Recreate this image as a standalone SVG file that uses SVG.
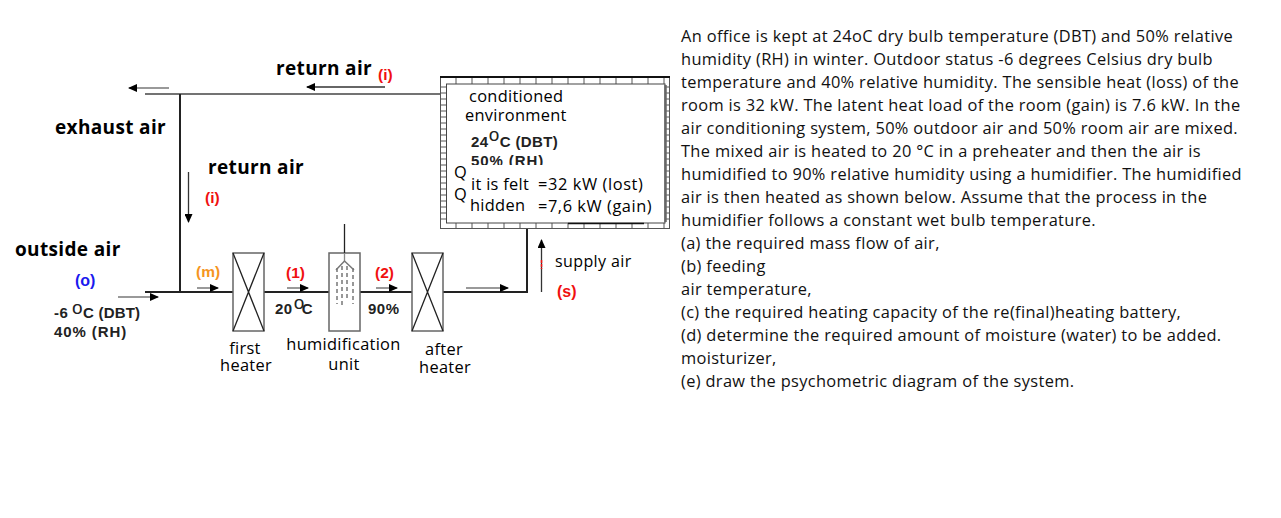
<svg xmlns="http://www.w3.org/2000/svg" width="1281" height="518" viewBox="0 0 1281 518">
<defs>
<marker id="ah" markerUnits="userSpaceOnUse" markerWidth="9" markerHeight="8" refX="8" refY="4" orient="auto"><path d="M0,0L9,4L0,8Z" fill="#000"/></marker>
<pattern id="brick" width="16" height="8" patternUnits="userSpaceOnUse"><path d="M8,0V8" stroke="#555" stroke-width="1"/></pattern>
<pattern id="brickv" width="8" height="6" patternUnits="userSpaceOnUse"><path d="M0,3H8" stroke="#555" stroke-width="1"/></pattern>
</defs>
<style>
text{font-family:"Open Sans","Noto Sans",sans-serif;fill:#000}
.b{font-weight:700;font-size:19px;letter-spacing:.35px}
.n{font-size:16.4px;letter-spacing:.3px}
.p{font-size:16.4px;letter-spacing:.34px;fill:#111}
.a{font-family:"Liberation Sans",Arial,sans-serif;font-weight:700;font-size:15px;letter-spacing:.5px;fill:#222}
.r{font-family:"Liberation Sans",Arial,sans-serif;font-weight:700;font-size:15.500px;fill:#f01010}
.line{fill:none;stroke:#222;stroke-width:2}
.thin{fill:none;stroke:#444;stroke-width:1.400}
.arr{fill:none;stroke:#333;stroke-width:1.300;marker-end:url(#ah)}
.gray{fill:none;stroke:#777;stroke-width:1.500;marker-end:url(#ah)}
.box{fill:#fff;stroke:#666;stroke-width:1.500}
.x{stroke:#222;stroke-width:1.300;fill:none}
</style>
<rect width="1281" height="518" fill="#fff"/>
<g id="connectors">
<path class="thin" d="M145,94H441"/>
<path class="line" d="M180,94V293"/>
<path class="line" d="M145,292H233"/>
<path class="line" d="M264,292H329"/>
<path class="line" d="M360,292H412"/>
<path class="line" d="M443,292H527V229"/>
<path class="gray" d="M169,88H129"/>
<path class="arr" d="M385,87H307"/>
<path class="arr" d="M188.500,172V222"/>
<path class="gray" d="M118,297H158"/>
<path class="gray" d="M197,288H218"/>
<path class="gray" d="M287,288H308"/>
<path class="gray" d="M376,288H397"/>
<path class="gray" d="M466,288H508"/>
<path class="arr" d="M541.500,292V240"/>
<path d="M541.500,260V269" stroke="#f01010" stroke-width="1.500" stroke-dasharray="3 1"/>
</g>
<g id="room">
<rect x="440.500" y="77.500" width="229" height="151" fill="#fff" stroke="#555" stroke-width="1"/>
<path d="M440,77H670" stroke="#111" stroke-width="2"/>
<rect x="441" y="78" width="228" height="6" fill="url(#brick)"/>
<rect x="441" y="223" width="228" height="5" fill="url(#brick)"/>
<rect x="441" y="84" width="5" height="139" fill="url(#brickv)"/>
<rect x="666" y="84" width="3" height="139" fill="url(#brickv)"/>
<rect x="446.500" y="84" width="218.500" height="139" fill="#fff" stroke="#444" stroke-width="1"/>
<path d="M665.500,85V222" stroke="#666" stroke-width="2.500"/>
<path d="M568,223.500H644" stroke="#111" stroke-width="1.500"/>
<text class="n" x="469" y="102">conditioned</text>
<text class="n" x="465" y="121">environment</text>
<text class="a" x="471" y="147">24<tspan font-size="19" font-weight="400" dy="-6">o</tspan><tspan dy="6" letter-spacing=".35">C (DBT)</tspan></text>
<text class="a" x="471" y="166" style="letter-spacing:.9px">50% (RH)</text>
<rect x="452" y="165" width="202" height="50" fill="#fff"/>
<text class="n" x="454" y="178">Q</text>
<text class="n" x="471" y="190">it is felt</text>
<text class="n" x="538" y="190" style="letter-spacing:.6px">=32 kW (lost)</text>
<text class="n" x="454" y="200">Q</text>
<text class="n" x="470" y="211">hidden</text>
<text class="n" x="538" y="212" style="letter-spacing:.55px">=7,6 kW (gain)</text>
</g>
<g id="first-heater">
<rect class="box" x="233" y="253" width="31" height="78"/>
<path class="x" d="M233,253L264,331M264,253L233,331"/>
<text class="n" x="245" y="354" text-anchor="middle">first</text>
<text class="n" x="246" y="371" text-anchor="middle">heater</text>
</g>
<g id="humidification-unit">
<rect class="box" x="329" y="253" width="31" height="78"/>
<path d="M344.500,224V253" stroke="#222" stroke-width="1.300"/>
<path d="M344.500,253V262" stroke="#888" stroke-width="1.300"/>
<path d="M336,270L344.500,261L354,270" fill="none" stroke="#777" stroke-width="1.500"/>
<path d="M337,268V304M342,266V306M347,266V300M353,268V304" stroke="#777" stroke-width="1.500" stroke-dasharray="4 3" fill="none"/>
<text class="n" x="343.500" y="350" text-anchor="middle">humidification</text>
<text class="n" x="344" y="370" text-anchor="middle">unit</text>
</g>
<g id="after-heater">
<rect class="box" x="412" y="253" width="31" height="78"/>
<path class="x" d="M412,253L443,331M443,253L412,331"/>
<text class="n" x="444" y="355" text-anchor="middle">after</text>
<text class="n" x="445" y="373" text-anchor="middle">heater</text>
</g>
<g id="labels">
<text class="b" x="276" y="75">return air</text>
<text class="r" x="378" y="80">(i)</text>
<text class="b" x="55" y="134">exhaust air</text>
<text class="b" x="208" y="174">return air</text>
<text class="r" x="205" y="203">(i)</text>
<text class="b" x="15" y="256">outside air</text>
<text class="r" x="75" y="286" style="fill:#1a1aee;font-size:16px">(o)</text>
<text class="a" x="54" y="318">-6 <tspan font-size="19" font-weight="400" dy="-4" dx="-1">o</tspan><tspan dy="4" letter-spacing=".2">C (DBT)</tspan></text>
<text class="a" x="54" y="337" style="letter-spacing:.9px">40% (RH)</text>
<text class="r" x="196" y="277" style="fill:#f5951f">(m)</text>
<text class="r" x="286" y="278">(1)</text>
<text class="r" x="375" y="278">(2)</text>
<text class="a" x="275" y="314">20<tspan font-size="19" font-weight="400" dy="-5" dx="1">o</tspan><tspan dy="5" dx="-3">C</tspan></text>
<text class="a" x="368" y="314">90%</text>
<text class="n" x="555" y="267" style="font-size:16px;letter-spacing:.4px">supply air</text>
<text class="r" x="557" y="297" style="font-size:16px">(s)</text>
</g>
<g id="problem-text">
<text class="p" x="681" y="42">An office is kept at 24oC dry bulb temperature (DBT) and 50% relative</text>
<text class="p" x="681" y="65">humidity (RH) in winter. Outdoor status -6 degrees Celsius dry bulb</text>
<text class="p" x="681" y="88">temperature and 40% relative humidity. The sensible heat (loss) of the</text>
<text class="p" x="681" y="111">room is 32 kW. The latent heat load of the room (gain) is 7.6 kW. In the</text>
<text class="p" x="681" y="134">air conditioning system, 50% outdoor air and 50% room air are mixed.</text>
<text class="p" x="681" y="157">The mixed air is heated to 20 °C in a preheater and then the air is</text>
<text class="p" x="681" y="180">humidified to 90% relative humidity using a humidifier. The humidified</text>
<text class="p" x="681" y="203">air is then heated as shown below. Assume that the process in the</text>
<text class="p" x="681" y="226">humidifier follows a constant wet bulb temperature.</text>
<text class="p" x="681" y="249">(a) the required mass flow of air,</text>
<text class="p" x="681" y="272">(b) feeding</text>
<text class="p" x="681" y="295">air temperature,</text>
<text class="p" x="681" y="318">(c) the required heating capacity of the re(final)heating battery,</text>
<text class="p" x="681" y="341">(d) determine the required amount of moisture (water) to be added.</text>
<text class="p" x="681" y="364">moisturizer,</text>
<text class="p" x="681" y="387">(e) draw the psychometric diagram of the system.</text>
</g>
</svg>
